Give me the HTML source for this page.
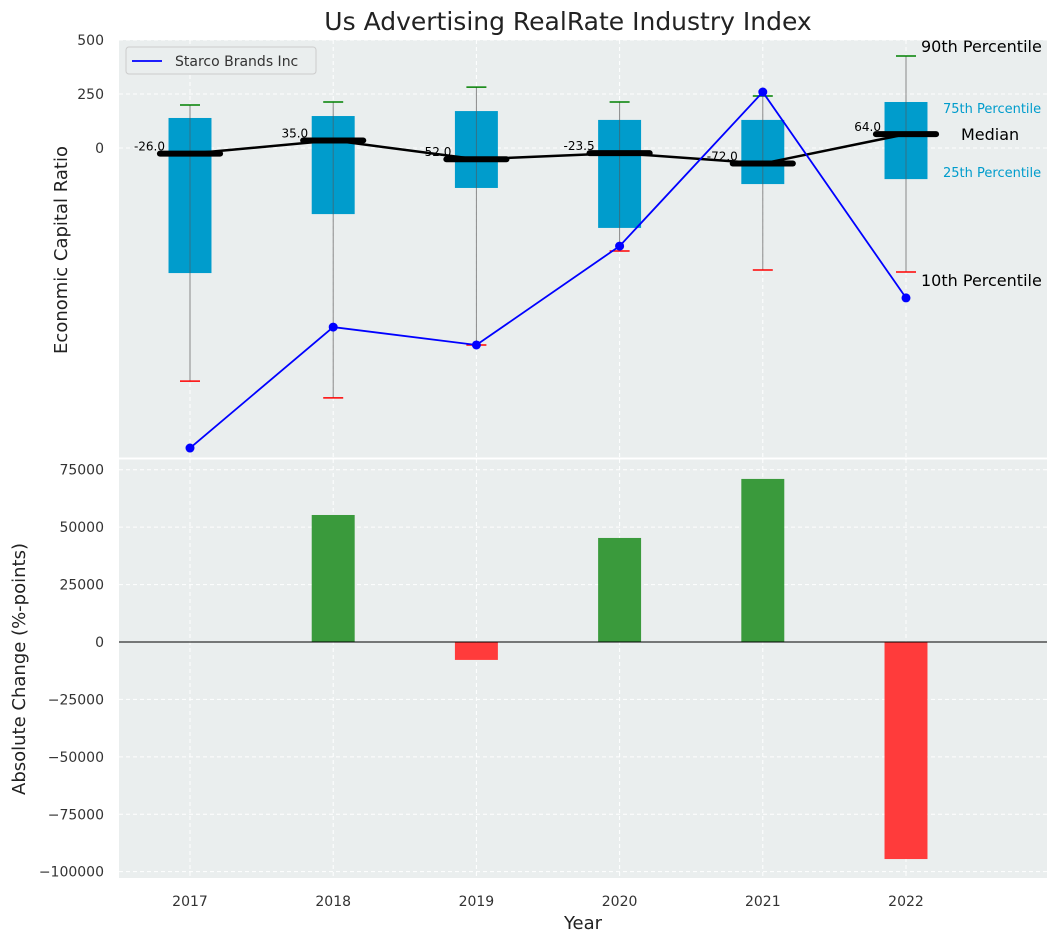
<!DOCTYPE html>
<html><head><meta charset="utf-8"><style>
body{margin:0;background:#fff;font-family:"Liberation Sans","DejaVu Sans",sans-serif;}
svg text{font-family:"DejaVu Sans","Liberation Sans",sans-serif;}
</style></head><body>
<svg id="c" width="1058" height="942" xmlns="http://www.w3.org/2000/svg"></svg>
<script>
const years=["2017","2018","2019","2020","2021","2022"];
const p90=[199,213,282,213,241,426];
const p75=[139,148,171,130,130,213];
const medians=[-26,35,-52,-23.5,-72,64];
const p25=[-579,-306,-185,-370,-167,-144];
const p10=[-1079,-1157,-912,-477,-565,-574];
const company=[-1389,-829,-912,-454,259,-694];
const changes=[0,55300,-7800,45300,71000,-94500];
const topTicks=[500,250,0];
const botTicks=[75000,50000,25000,0,-25000,-50000,-75000,-100000];

const NS="http://www.w3.org/2000/svg";
const svg=document.getElementById('c');
function mk(t,a,parent){const e=document.createElementNS(NS,t);for(const k in a)e.setAttribute(k,a[k]);(parent||svg).appendChild(e);return e;}
const L=119,R=1047;
const bw=143.2;
const x=i=>190+i*bw;
const T0=40,T1=458,yt=v=>148-v*0.216;
const B0=459,B1=878,yb=v=>642-v*0.0022968;

let e=mk('rect',{x:L,y:T0,width:R-L,height:T1-T0,fill:'#eaeeee'});

e=mk('rect',{x:L,y:B0,width:R-L,height:B1-B0,fill:'#eaeeee'});


years.forEach((y,i)=>{
 mk('line',{x1:x(i),x2:x(i),y1:T0,y2:T1,stroke:'#fff','stroke-dasharray':'4 3'});
 mk('line',{x1:x(i),x2:x(i),y1:B0,y2:B1,stroke:'#fff','stroke-dasharray':'4 3'});
 const t=mk('text',{x:x(i),y:906,'text-anchor':'middle','font-size':14,fill:'#333'});t.textContent=y;
 
});
topTicks.forEach(v=>{
 mk('line',{x1:L,x2:R,y1:yt(v),y2:yt(v),stroke:'#fff','stroke-dasharray':'4 3'});
 const t=mk('text',{x:104,y:yt(v)+5,'text-anchor':'end','font-size':14,fill:'#333'});t.textContent=v;
 
});
botTicks.forEach(v=>{
 mk('line',{x1:L,x2:R,y1:yb(v),y2:yb(v),stroke:'#fff','stroke-dasharray':'4 3'});
 const t=mk('text',{x:104,y:yb(v)+5,'text-anchor':'end','font-size':14,fill:'#333'});t.textContent=(v<0?'\u2212'+(-v):v);
 
});
mk('line',{x1:L,x2:R,y1:458.5,y2:458.5,stroke:'#fff','stroke-width':2});

years.forEach((y,i)=>{
 const cx=x(i),hw=bw*0.15;
 let w=mk('line',{x1:cx,x2:cx,y1:yt(p90[i]),y2:yt(p10[i]),stroke:'#888','stroke-width':1});
 
 let b=mk('rect',{x:cx-hw,y:yt(p75[i]),width:2*hw,height:yt(p25[i])-yt(p75[i]),fill:'#009ccc'});
 
 mk('line',{x1:cx,x2:cx,y1:yt(p75[i]),y2:yt(p25[i]),stroke:'#555','stroke-width':1,opacity:0.6});
 mk('line',{x1:cx-10,x2:cx+10,y1:yt(p90[i]),y2:yt(p90[i]),stroke:'green','stroke-width':1.5});
 mk('line',{x1:cx-10,x2:cx+10,y1:yt(p10[i]),y2:yt(p10[i]),stroke:'red','stroke-width':1.5});
});
let pts=medians.map((v,i)=>x(i)+','+yt(v)).join(' ');
e=mk('polyline',{points:pts,fill:'none',stroke:'#000','stroke-width':2.5});

medians.forEach((v,i)=>{
 const cx=x(i),hw=bw*0.21;
 let m=mk('line',{x1:cx-hw,x2:cx+hw,y1:yt(v),y2:yt(v),stroke:'#000','stroke-width':6,'stroke-linecap':'round'});
 
 let t=mk('text',{x:cx-25,y:yt(v)-3,'text-anchor':'end','font-size':12,fill:'#000'});t.textContent=v.toFixed(1);
 
});
pts=company.map((v,i)=>x(i)+','+yt(v)).join(' ');
e=mk('polyline',{points:pts,fill:'none',stroke:'blue','stroke-width':1.8});

company.forEach((v,i)=>{let c=mk('circle',{cx:x(i),cy:yt(v),r:4.5,fill:'blue'});
 });

const last=5,ax=x(last);
[["90th Percentile",15,'#000',16,yt(p90[last])-4],["75th Percentile",37,'#009ccc',13,113],["Median",55,'#000',16,140],["25th Percentile",37,'#009ccc',13,177],["10th Percentile",15,'#000',16,yt(p10[last])+14]].forEach(a=>{
 let t=mk('text',{x:ax+a[1],y:a[4],'font-size':a[3],fill:a[2]});t.textContent=a[0];
 
});

changes.forEach((v,i)=>{
 if(v===0)return;
 const hw=bw*0.15;
 let b=mk('rect',{x:x(i)-hw,y:Math.min(yb(v),yb(0)),width:2*hw,height:Math.abs(yb(v)-yb(0)),fill:v>=0?'#3a9a3c':'#ff3b3b'});
 
});
mk('line',{x1:L,x2:R,y1:yb(0),y2:yb(0),stroke:'#000','stroke-width':1});

let g=mk('g',{});
mk('rect',{x:126,y:47,width:190,height:27,rx:3,fill:'#eaeeee',stroke:'#ccc'},g);
mk('line',{x1:132,x2:162,y1:61,y2:61,stroke:'blue','stroke-width':1.8},g);
let t=mk('text',{x:175,y:66,'font-size':14,fill:'#333'},g);t.textContent='Starco Brands Inc';

t=mk('text',{x:568,y:30,'text-anchor':'middle','font-size':25,fill:'#222'});t.textContent='Us Advertising RealRate Industry Index';

t=mk('text',{x:0,y:0,'text-anchor':'middle','font-size':18,fill:'#222',transform:'translate(67,250) rotate(-90)'});t.textContent='Economic Capital Ratio';

t=mk('text',{x:0,y:0,'text-anchor':'middle','font-size':18,fill:'#222',transform:'translate(25,669) rotate(-90)'});t.textContent='Absolute Change (%-points)';

t=mk('text',{x:583,y:929,'text-anchor':'middle','font-size':18,fill:'#222'});t.textContent='Year';

</script>
</body></html>
